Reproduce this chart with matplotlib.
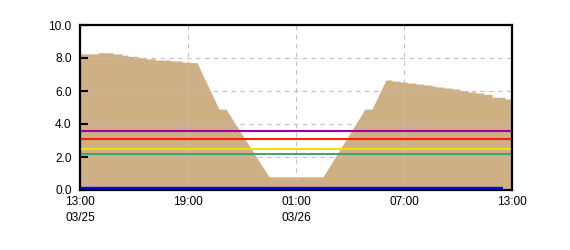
import matplotlib
matplotlib.use("Agg")
import matplotlib.pyplot as plt
import numpy as np

# ---- data (hours after 13:00 on 03/25) ----
seg1_t = [0, 1.0, 1.83, 2.33, 2.67, 3.22, 3.67, 4.17, 5.0, 5.67, 6.11]
seg1_v = [8.25, 8.32, 8.25, 8.17, 8.10, 8.02, 7.95, 7.88, 7.82, 7.75, 7.72]
ramp_t = [6.5, 7.72, 8.11, 10.5, 13.5, 15.83, 16.22, 17.0]
ramp_v = [7.72, 4.9, 4.9, 0.8, 0.8, 4.9, 4.9, 6.67]
seg2_t = [17.0, 17.33, 17.78, 18.17, 18.67, 19.11, 19.56, 19.78, 20.22,
          20.67, 21.11, 21.56, 22.0, 22.44, 22.89, 23.61]
seg2_v = [6.67, 6.60, 6.55, 6.48, 6.42, 6.36, 6.30, 6.24, 6.18,
          6.12, 6.03, 5.94, 5.88, 5.80, 5.62, 5.52]
end_t = 24.0

level_values = [3.6, 3.1, 2.5, 2.2]
level_colors = ["#a0009c", "#ff2200", "#f0e000", "#3aa870"]
base_value = 0.12
base_end = 23.5

xticks = [0, 6, 12, 18, 24]
xticklabels = ["13:00\n03/25", "19:00", "01:00\n03/26", "07:00", "13:00"]
yticks = [0, 2, 4, 6, 8, 10]


def step_knots(t, v, t_end):
    xs, ys = [], []
    for i in range(len(t)):
        nxt = t[i + 1] if i + 1 < len(t) else t_end
        xs += [t[i], nxt]
        ys += [v[i], v[i]]
    return xs, ys


x1, y1 = step_knots(seg1_t, seg1_v, ramp_t[0])
x3, y3 = step_knots(seg2_t, seg2_v, end_t)
xs = np.array(x1 + ramp_t + x3)
ys = np.array(y1 + ramp_v + y3)

plt.rcParams['font.family'] = ['Liberation Sans', 'DejaVu Sans']
fig = plt.figure(figsize=(5.7, 2.5), dpi=100)
ax = fig.add_axes([80 / 570, 60 / 250, 432 / 570, 165 / 250])

ax.fill_between(xs, 0, ys, color="#cfaf84", linewidth=0, zorder=1, antialiased=False)

ax.set_axisbelow(False)
ax.grid(True, color="#c0c0c0", linestyle=(0, (4, 4)), linewidth=0.8)

for v, c in zip(level_values, level_colors):
    ax.axhline(v, color=c, linewidth=1.5, zorder=3)
ax.hlines(base_value, 0, base_end, color="#0000ff", linewidth=1.7, zorder=3)

ax.set_xlim(0, 24)
ax.set_ylim(0, 10)
ax.set_xticks(xticks)
ax.set_xticklabels(xticklabels, fontsize=8.6, linespacing=1.45)
ax.set_yticks(yticks)
ax.set_yticklabels([f"{v:.1f}" for v in yticks], fontsize=8.6)
ax.tick_params(axis='y', direction='in', length=6, width=1.5, pad=6)
ax.tick_params(axis='x', length=0, pad=4)
for s in ax.spines.values():
    s.set_linewidth(1.6)
    s.set_color("black")
    s.set_zorder(5)

fig.savefig("out.png", dpi=100)
